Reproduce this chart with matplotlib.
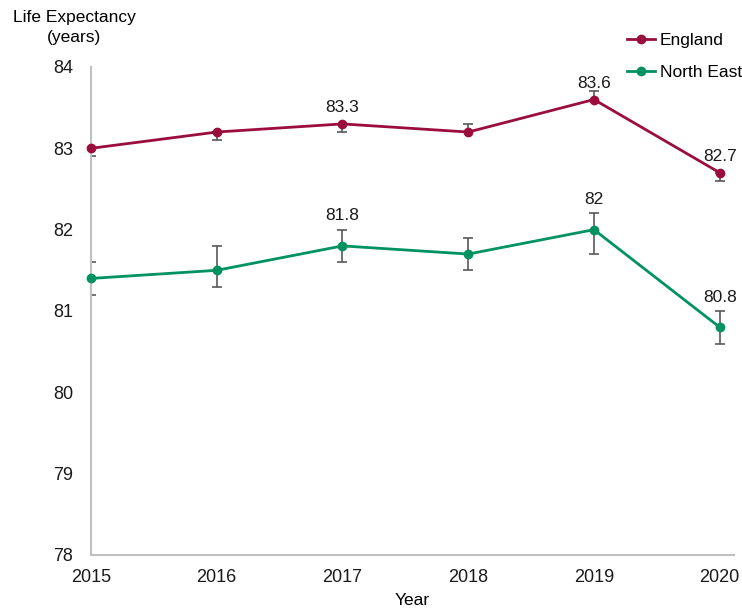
import matplotlib.pyplot as plt

plt.rcParams['font.family'] = ['Liberation Sans', 'DejaVu Sans']
plt.rcParams['font.size'] = 12

years = [2015, 2016, 2017, 2018, 2019, 2020]

england = [83.0, 83.2, 83.3, 83.2, 83.6, 82.7]
england_lo = [82.9, 83.1, 83.2, 83.2, 83.6, 82.6]
england_hi = [83.0, 83.2, 83.3, 83.3, 83.7, 82.7]

north_east = [81.4, 81.5, 81.8, 81.7, 82.0, 80.8]
north_east_lo = [81.2, 81.3, 81.6, 81.5, 81.7, 80.6]
north_east_hi = [81.6, 81.8, 82.0, 81.9, 82.2, 81.0]

labelled_years = [2017, 2019, 2020]

ENG_COL = "#9B0D3C"
NE_COL = "#00935F"
ERR_COL = "#595959"
AXIS_COL = "#C0C0C0"

fig = plt.figure(figsize=(7.42, 6.10), dpi=100)
ax = fig.add_axes([0.1226, 0.0902, 0.866, 0.800])

series = [
    ("England", england, england_lo, england_hi, ENG_COL, 16),
    ("North East", north_east, north_east_lo, north_east_hi, NE_COL, 30),
]

for name, vals, lo, hi, col, lift in series:
    yerr = [[v - l for v, l in zip(vals, lo)], [h - v for v, h in zip(vals, hi)]]
    ax.errorbar(years, vals, yerr=yerr, fmt="none", ecolor=ERR_COL,
                elinewidth=1.2, capsize=3.5, capthick=1.2, zorder=2)
    ax.plot(years, vals, color=col, linewidth=2, marker="o", markersize=6,
            label=name, zorder=3, clip_on=False)
    for x, v in zip(years, vals):
        if x in labelled_years:
            ax.annotate(f"{v:g}", (x, v), xytext=(0, lift), textcoords="offset pixels",
                        ha="center", va="center", fontsize=12.5, color="#1a1a1a")

ax.set_xlim(2015, 2020.11)
ax.set_ylim(78, 84)
ax.set_xticks(years)
ax.set_yticks(range(78, 85))
ax.tick_params(length=0, labelsize=13, colors="#1a1a1a")
ax.tick_params(axis="x", pad=10)
ax.tick_params(axis="y", pad=13)

for side in ("top", "right"):
    ax.spines[side].set_visible(False)
for side in ("left", "bottom"):
    ax.spines[side].set_color(AXIS_COL)
    ax.spines[side].set_linewidth(1.5)

ax.set_xlabel("Year", fontsize=12.5, labelpad=5)
fig.text(0.0997, 0.955, "Life Expectancy\n(years)", ha="center", va="center",
         fontsize=12.5, linespacing=1.45)

fig.legend(loc="upper right", bbox_to_anchor=(1.021, 0.972), frameon=False,
           handlelength=1.6, handletextpad=0.3, labelspacing=1.0, fontsize=12.5)

fig.savefig("out.png", dpi=100)
